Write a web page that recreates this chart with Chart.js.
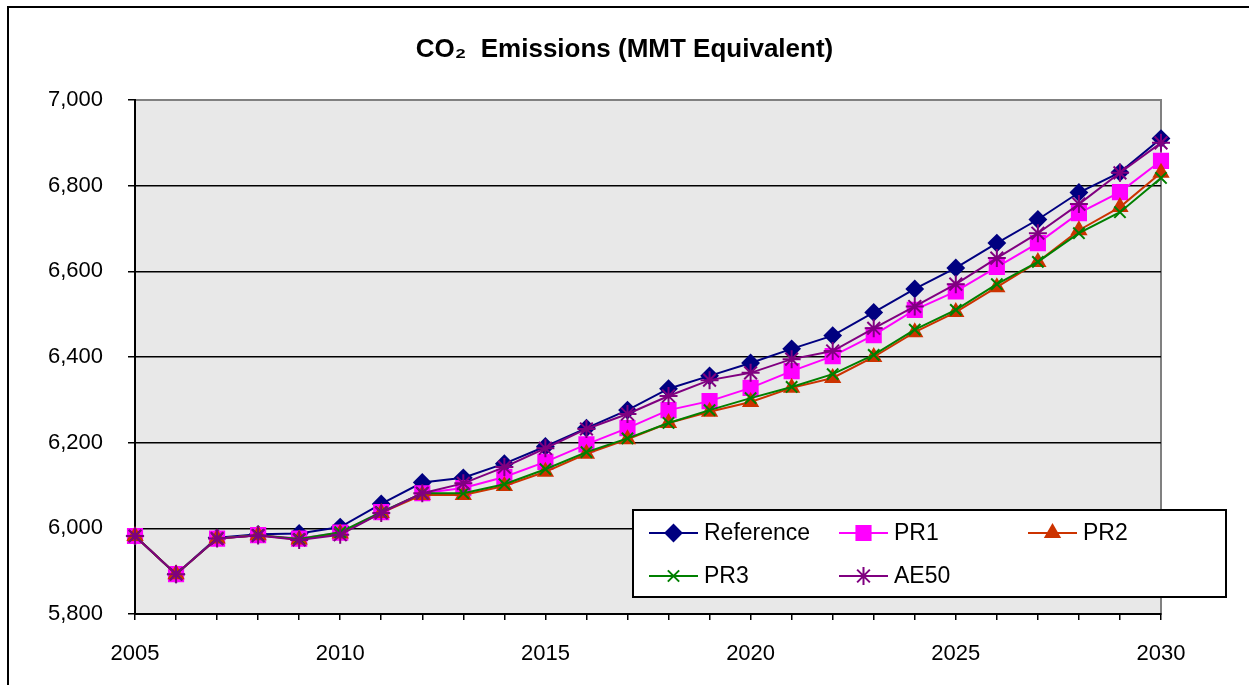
<!DOCTYPE html>
<html>
<head>
<meta charset="utf-8">
<script src="https://cdn.jsdelivr.net/npm/chart.js@4/dist/chart.umd.min.js"></script>
<style>
  html, body { margin: 0; padding: 0; background: #fff; }
  canvas { display: block; }
</style>
</head>
<body>
<canvas id="myChart" width="1249" height="685"></canvas>
<script>
const years = [2005, 2006, 2007, 2008, 2009, 2010, 2011, 2012, 2013, 2014, 2015, 2016, 2017,
  2018, 2019, 2020, 2021, 2022, 2023, 2024, 2025, 2026, 2027, 2028, 2029, 2030];

const reference_values = [5982, 5893, 5978, 5986, 5988, 6003, 6057, 6107, 6118, 6151, 6191, 6234, 6276,
  6326, 6356, 6386, 6419, 6450, 6504, 6559, 6608, 6666, 6721, 6784, 6831, 6910];
const pr1_values = [5982, 5893, 5976, 5984, 5976, 5990, 6038, 6082, 6094, 6120, 6155, 6196, 6234,
  6276, 6297, 6328, 6367, 6402, 6451, 6510, 6553, 6610, 6666, 6736, 6785, 6858];
const pr2_values = [5982, 5893, 5976, 5984, 5974, 5988, 6036, 6078, 6078, 6099, 6132, 6174, 6208,
  6246, 6272, 6295, 6328, 6351, 6400, 6458, 6505, 6563, 6622, 6696, 6750, 6830];
const pr3_values = [5982, 5893, 5976, 5984, 5975, 5991, 6038, 6082, 6082, 6103, 6138, 6178, 6210,
  6246, 6276, 6304, 6330, 6360, 6405, 6464, 6510, 6570, 6622, 6689, 6738, 6818];
const ae50_values = [5982, 5893, 5976, 5983, 5973, 5985, 6036, 6082, 6105, 6143, 6187, 6232, 6267,
  6309, 6346, 6363, 6395, 6414, 6467, 6518, 6570, 6631, 6689, 6757, 6830, 6900];

const FONT = '"Liberation Sans", Arial, sans-serif';

function series(label, values, color, style, radius, order) {
  return {
    label: label,
    data: years.map((yr, i) => ({ x: yr, y: values[i] })),
    borderColor: color,
    backgroundColor: color,
    borderWidth: 2,
    pointStyle: style,
    pointRadius: radius,
    pointHoverRadius: radius,
    pointBorderWidth: 2,
    pointBackgroundColor: color,
    pointBorderColor: color,
    fill: false,
    tension: 0,
    clip: false,
    order: order
  };
}

const datasets = [
  series('Reference', reference_values, '#000080', 'rectRot', 8, 5),
  series('PR1', pr1_values, '#FF00FF', 'rect', 10, 4),
  series('PR2', pr2_values, '#CC3300', 'triangle', 8, 3),
  series('PR3', pr3_values, '#008000', 'crossRot', 8, 2),
  series('AE50', ae50_values, '#800080', 'star', 9, 1)
];

// plot area fill, outer frame, title centred on the whole page
const frame = {
  id: 'frame',
  afterLayout(chart) {
    const t = chart.titleBlock;
    if (t) { t.left = 0; t.right = chart.width; t.width = chart.width; }
  },
  beforeDraw(chart) {
    const c = chart.ctx, a = chart.chartArea;
    c.save();
    c.fillStyle = '#fff';
    c.fillRect(0, 0, chart.width, chart.height);
    c.strokeStyle = '#000';
    c.lineWidth = 2;
    c.strokeRect(8, 7, chart.width + 20, chart.height + 20);
    c.fillStyle = '#e8e8e8';
    c.fillRect(a.left, a.top, a.right - a.left, a.bottom - a.top);
    c.strokeStyle = '#808080';
    c.lineWidth = 2;
    c.strokeRect(a.left, a.top, a.right - a.left, a.bottom - a.top);
    c.restore();
  }
};

// legend box inside the plot, Excel style
const boxLegend = {
  id: 'boxLegend',
  afterDraw(chart) {
    const c = chart.ctx;
    const box = { x: 633, y: 510, w: 593, h: 87 };
    const cols = [649, 839, 1028];
    const rows = [533, 576];
    c.save();
    c.fillStyle = '#fff';
    c.fillRect(box.x, box.y, box.w, box.h);
    c.strokeStyle = '#000';
    c.lineWidth = 2;
    c.strokeRect(box.x, box.y, box.w, box.h);
    c.font = '23px ' + FONT;
    c.textBaseline = 'middle';
    chart.data.datasets.forEach((ds, i) => {
      const x = cols[i % 3], y = rows[Math.floor(i / 3)];
      c.strokeStyle = ds.borderColor;
      c.fillStyle = ds.borderColor;
      c.lineWidth = 2;
      c.beginPath();
      c.moveTo(x, y);
      c.lineTo(x + 49, y);
      c.stroke();
      Chart.helpers.drawPoint(c, {
        pointStyle: ds.pointStyle, radius: ds.pointRadius, rotation: 0, borderWidth: 2
      }, x + 24.5, y);
      c.fillStyle = '#000';
      c.fillText(ds.label, x + 55, y + 1);
    });
    c.restore();
  }
};

const ctx = document.getElementById('myChart');

const myChart = new Chart(ctx, {
  type: 'line',
  data: { datasets: datasets },
  options: {
    responsive: false,
    animation: false,
    layout: { padding: { left: 0, right: 88, top: 0, bottom: 0 } },
    plugins: {
      legend: { display: false },
      tooltip: { enabled: false },
      title: {
        display: true,
        text: 'CO\u2082  Emissions (MMT Equivalent)',
        color: '#000',
        font: { family: FONT, size: 26, weight: 'bold', lineHeight: 1.2 },
        padding: { top: 34, bottom: 34.8 }
      }
    },
    scales: {
      x: {
        type: 'linear',
        min: 2005,
        max: 2030,
        afterFit(scale) { scale.height = 71; },
        border: { color: '#000', width: 2 },
        grid: { drawOnChartArea: false, drawTicks: true, tickLength: 6, color: '#000', lineWidth: 1.5 },
        ticks: {
          stepSize: 1,
          autoSkip: false,
          maxRotation: 0,
          padding: 21,
          color: '#000',
          font: { family: FONT, size: 22 },
          callback: v => (v % 5 === 0 ? String(v) : '')
        }
      },
      y: {
        min: 5800,
        max: 7000,
        afterFit(scale) { scale.width = 135; },
        border: { color: '#000', width: 2 },
        grid: {
          color: c => (c.tick && c.tick.value === 7000 ? '#808080' : '#000'),
          tickColor: '#000',
          lineWidth: 1.5,
          tickLength: 7
        },
        ticks: {
          stepSize: 200,
          padding: 25,
          color: '#000',
          font: { family: FONT, size: 22 },
          callback: v => v.toLocaleString('en-US')
        }
      }
    }
  },
  plugins: [frame, boxLegend]
});
</script>
</body>
</html>
